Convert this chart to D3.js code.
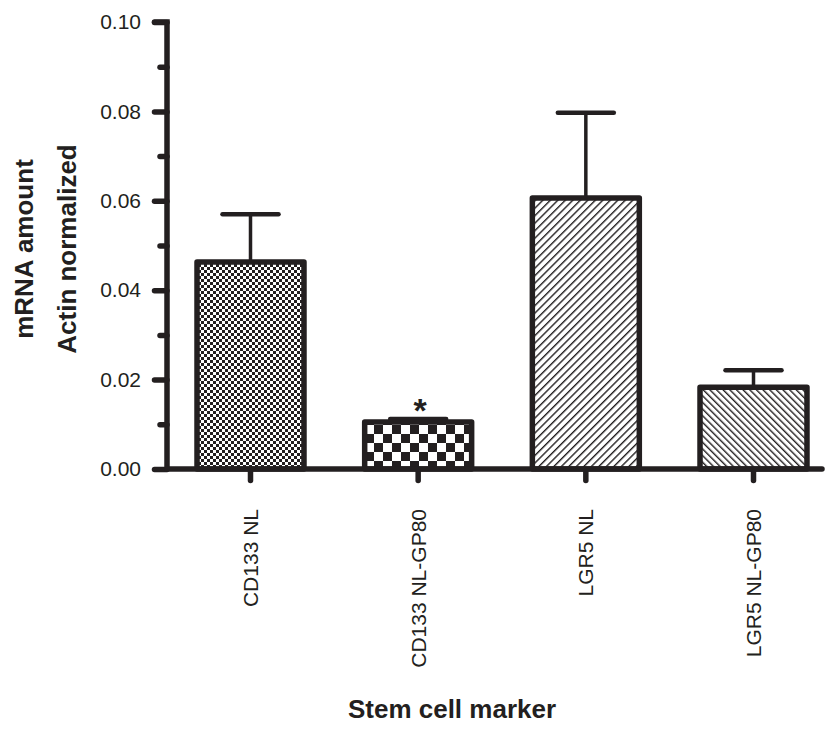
<!DOCTYPE html>
<html>
<head>
<meta charset="utf-8">
<script src="https://cdn.jsdelivr.net/npm/d3@7"></script>
<style>
  body { margin: 0; background: #fff; }
  svg { display: block; font-family: "Liberation Sans", Arial, sans-serif; }
</style>
</head>
<body>
<svg></svg>
<script>
// chart data
var categories = ["CD133 NL", "CD133 NL-GP80", "LGR5 NL", "LGR5 NL-GP80"];
var means = [0.0463, 0.0105, 0.0606, 0.0183];
var sems = [0.0107, 0.0007, 0.0191, 0.0038];
var patterns = ["fineCheck", "coarseCheck", "hatchUp", "hatchDown"];
var yTicks = [0, 0.02, 0.04, 0.06, 0.08, 0.10];
var yMinor = [0.01, 0.03, 0.05, 0.07, 0.09];
var yTitle = ["mRNA amount", "Actin normalized"];
var xTitle = "Stem cell marker";
var starred = ["CD133 NL-GP80"];

var width = 828, height = 740;
var ink = "#231f20";
var axisX0 = 167, axisTop = 22, axisBase = 469;

var svg = d3.select("svg").attr("width", width).attr("height", height);
var defs = svg.append("defs");

// fill patterns
var p = defs.append("pattern").attr("id", "fineCheck")
  .attr("patternUnits", "userSpaceOnUse").attr("width", 6).attr("height", 6);
p.append("rect").attr("width", 6).attr("height", 6).attr("fill", "#fff");
p.append("rect").attr("width", 3).attr("height", 3).attr("fill", ink);
p.append("rect").attr("x", 3).attr("y", 3).attr("width", 3).attr("height", 3).attr("fill", ink);

p = defs.append("pattern").attr("id", "coarseCheck")
  .attr("patternUnits", "userSpaceOnUse").attr("width", 18).attr("height", 18)
  .attr("x", 5).attr("y", 2);
p.append("rect").attr("width", 18).attr("height", 18).attr("fill", "#fff");
p.append("rect").attr("width", 9).attr("height", 9).attr("fill", ink);
p.append("rect").attr("x", 9).attr("y", 9).attr("width", 9).attr("height", 9).attr("fill", ink);

function hatch(id, gap, angle) {
  var h = defs.append("pattern").attr("id", id)
    .attr("patternUnits", "userSpaceOnUse").attr("width", gap).attr("height", gap)
    .attr("patternTransform", "rotate(" + angle + ")");
  h.append("rect").attr("width", gap).attr("height", gap).attr("fill", "#fff");
  h.append("line").attr("x1", 0.7).attr("y1", -1).attr("x2", 0.7).attr("y2", gap + 1)
    .attr("stroke", ink).attr("stroke-width", 1.4);
}
hatch("hatchUp", 5.3, 45);
hatch("hatchDown", 4.7, -45);

// scales
var x = d3.scaleBand().domain(categories)
  .range([axisX0, 837]).paddingInner(0.362).paddingOuter(0.179);
var y = d3.scaleLinear().domain([0, 0.10]).range([axisBase, axisTop]);

// y axis
var yG = svg.append("g").attr("transform", "translate(" + axisX0 + ",0)");
yG.call(d3.axisLeft(y).tickValues(yTicks).tickFormat(d3.format(".2f"))
  .tickSize(12.5).tickPadding(13.5).tickSizeOuter(0));
yG.select(".domain").remove();
yG.selectAll(".tick line").attr("stroke", ink).attr("stroke-width", 5.5).attr("stroke-linecap", "round");
yG.selectAll(".tick text").attr("fill", ink).attr("font-size", 21).attr("font-family", null);
var yMinorG = svg.append("g").attr("transform", "translate(" + axisX0 + ",0)");
yMinorG.call(d3.axisLeft(y).tickValues(yMinor).tickFormat("").tickSize(7));
yMinorG.select(".domain").remove();
yMinorG.selectAll(".tick line").attr("stroke", ink).attr("stroke-width", 5.5).attr("stroke-linecap", "round");

// x axis
var xG = svg.append("g").attr("transform", "translate(0," + axisBase + ")");
xG.call(d3.axisBottom(x).tickSize(11.5).tickSizeOuter(0));
xG.select(".domain").remove();
xG.selectAll(".tick line").attr("stroke", ink).attr("stroke-width", 5.5).attr("stroke-linecap", "round");
xG.selectAll(".tick text")
  .attr("fill", ink).attr("font-size", 21).attr("font-family", null)
  .attr("transform", "rotate(-90)")
  .attr("text-anchor", "end")
  .attr("x", -40).attr("y", 0).attr("dy", "0.35em");

// error bars (upper only), drawn under the bars
var err = svg.append("g").attr("stroke", ink);
categories.forEach(function (c, i) {
  var cx = x(c) + x.bandwidth() / 2;
  err.append("line").attr("x1", cx).attr("x2", cx)
    .attr("y1", y(means[i])).attr("y2", y(means[i] + sems[i])).attr("stroke-width", 3.5);
  err.append("line").attr("x1", cx - 28).attr("x2", cx + 28)
    .attr("y1", y(means[i] + sems[i])).attr("y2", y(means[i] + sems[i]))
    .attr("stroke-width", 4.5).attr("stroke-linecap", "round");
});

// bars
svg.append("g").selectAll("rect").data(categories).join("rect")
  .attr("x", function (d) { return x(d); })
  .attr("width", x.bandwidth())
  .attr("y", function (d, i) { return y(means[i]); })
  .attr("height", function (d, i) { return y(0) - y(means[i]); })
  .attr("fill", function (d, i) { return "url(#" + patterns[i] + ")"; })
  .attr("stroke", ink).attr("stroke-width", 5.5).attr("stroke-linejoin", "round");

// axis lines
svg.append("path")
  .attr("d", "M" + (axisX0 - 12.5) + "," + axisTop + "H" + axisX0 + "V" + axisBase + "H822")
  .attr("fill", "none").attr("stroke", ink).attr("stroke-width", 5.5)
  .attr("stroke-linecap", "round").attr("stroke-linejoin", "miter");

// significance mark
svg.append("g").selectAll("text").data(starred).join("text")
  .attr("x", function (d) { return x(d) + x.bandwidth() / 2 + 2; })
  .attr("y", function (d) { return y(means[categories.indexOf(d)]); })
  .attr("text-anchor", "middle").attr("font-size", 34).attr("font-weight", "bold")
  .attr("fill", ink).text("*");

// titles
svg.append("g").selectAll("text").data(yTitle).join("text")
  .attr("transform", function (d, i) { return "translate(" + (33 + i * 43) + ",249) rotate(-90)"; })
  .attr("text-anchor", "middle").attr("font-size", 26).attr("font-weight", "bold")
  .attr("fill", ink).text(function (d) { return d; });

svg.append("text")
  .attr("x", 452).attr("y", 718)
  .attr("text-anchor", "middle").attr("font-size", 26).attr("font-weight", "bold")
  .attr("fill", ink).text(xTitle);
</script>
</body>
</html>
